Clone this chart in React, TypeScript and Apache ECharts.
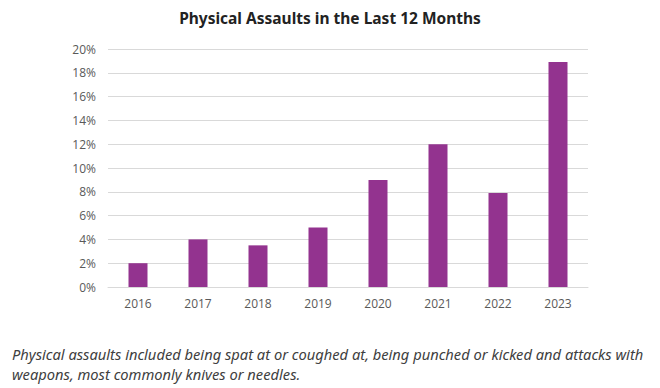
import React, { useEffect, useRef } from "react";
import * as echarts from "echarts";

const years = ["2016", "2017", "2018", "2019", "2020", "2021", "2022", "2023"];
const assaultPct = [2.0, 4.0, 3.5, 5.0, 9.0, 12.0, 7.9, 18.9];
const titleText = "Physical Assaults in the Last 12 Months";
const captionLines = [
  "Physical assaults included being spat at or coughed at, being punched or kicked and attacks with",
  "weapons, most commonly knives or needles.",
];

export default function App() {
  const ref = useRef<HTMLDivElement>(null);
  useEffect(() => {
    if (!ref.current) return;
    const chart = echarts.init(ref.current, undefined, { renderer: "svg" });
    chart.setOption({
      animation: false,
      backgroundColor: "#ffffff",
      title: {
        text: titleText,
        left: "center",
        top: 5,
        textStyle: {
          fontFamily: "Noto Sans",
          fontWeight: "bold",
          fontSize: 15.5,
          color: "#222222",
        },
      },
      grid: { left: 108, right: 72, top: 49, height: 238 },
      xAxis: {
        type: "category",
        data: years,
        axisLine: { show: true, lineStyle: { color: "#d9d9d9", width: 1 } },
        axisTick: { show: false },
        axisLabel: {
          color: "#595959",
          fontFamily: "Open Sans",
          fontSize: 12,
          margin: 10,
        },
      },
      yAxis: {
        type: "value",
        min: 0,
        max: 20,
        interval: 2,
        axisLine: { show: false },
        axisTick: { show: false },
        splitLine: { lineStyle: { color: "#d9d9d9", width: 1 } },
        axisLabel: {
          color: "#595959",
          fontFamily: "Open Sans",
          fontSize: 12,
          margin: 12,
          formatter: (v: number) => `${v}%`,
        },
      },
      series: [
        {
          type: "bar",
          data: assaultPct,
          barWidth: 19,
          itemStyle: { color: "#93338F" },
        },
      ],
      graphic: captionLines.map((line, i) => ({
        type: "text",
        left: 12,
        top: 346 + i * 20,
        style: {
          text: line,
          fontFamily: "Noto Sans",
          fontStyle: "italic",
          fontSize: 14.7,
          fill: "#404040",
        },
      })),
    });
    return () => chart.dispose();
  }, []);
  return (
    <div
      ref={ref}
      style={{ position: "fixed", left: 0, top: 0, width: 660, height: 388 }}
    />
  );
}
